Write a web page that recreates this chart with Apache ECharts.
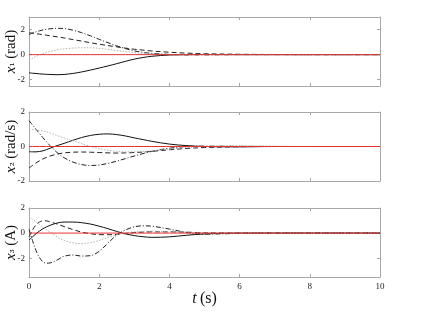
<!DOCTYPE html>
<html><head><meta charset="utf-8">
<script src="https://cdn.jsdelivr.net/npm/echarts@6/dist/echarts.min.js"></script>
<style>html,body{margin:0;padding:0;background:#fff}#c{width:424px;height:312px}</style>
</head><body><div id="c"></div>
<script>
// time samples (s)
const T = [0,0.1,0.2,0.3,0.4,0.5,0.6,0.8,1.0,1.25,1.5,1.75,2.0,2.25,2.5,2.75,3.0,3.25,3.5,4.0,4.5,5,6,7,8,10];

// x1 (rad)
const x1Solid   = [-1.45,-1.48,-1.5,-1.53,-1.55,-1.57,-1.58,-1.6,-1.58,-1.5,-1.38,-1.23,-1.07,-0.9,-0.72,-0.53,-0.36,-0.23,-0.13,-0.03,0,0.01,0,0,0,0];
const x1Dash    = [1.75,1.71,1.67,1.63,1.59,1.55,1.5,1.42,1.33,1.2,1.08,0.95,0.83,0.72,0.62,0.52,0.43,0.36,0.29,0.19,0.12,0.07,0.03,0.01,0,0];
const x1DashDot = [1.6,1.72,1.82,1.9,1.97,2.02,2.06,2.1,2.08,1.95,1.75,1.5,1.22,0.95,0.7,0.48,0.3,0.18,0.1,0.02,-0.02,-0.02,0,0,0,0];
const x1Dot     = [-0.45,-0.3,-0.15,-0.03,0.08,0.17,0.25,0.38,0.46,0.52,0.55,0.55,0.5,0.42,0.33,0.24,0.16,0.1,0.06,0.01,0,0,0,0,0,0];

// x2 (rad/s)
const x2Solid   = [-0.3,-0.31,-0.31,-0.29,-0.25,-0.18,-0.1,0.05,0.18,0.36,0.52,0.64,0.71,0.73,0.69,0.61,0.5,0.4,0.3,0.14,0.05,0,-0.02,0,0,0];
const x2Dash    = [-1.25,-1.1,-0.95,-0.83,-0.72,-0.63,-0.55,-0.44,-0.37,-0.33,-0.32,-0.33,-0.35,-0.37,-0.38,-0.37,-0.35,-0.32,-0.28,-0.19,-0.11,-0.06,-0.01,0,0,0];
const x2DashDot = [1.5,1.25,1.0,0.75,0.5,0.27,0.05,-0.35,-0.65,-0.9,-1.05,-1.1,-1.07,-0.98,-0.85,-0.7,-0.55,-0.41,-0.28,-0.1,0,0.02,0.01,0,0,0];
const x2Dot     = [1.0,0.99,0.97,0.94,0.9,0.85,0.78,0.64,0.5,0.33,0.16,0,-0.12,-0.22,-0.28,-0.31,-0.31,-0.29,-0.25,-0.15,-0.06,0,0.04,0.02,0,0];

// x3 (A)
const x3Solid   = [-0.55,-0.3,-0.05,0.17,0.35,0.5,0.62,0.8,0.88,0.88,0.83,0.72,0.55,0.35,0.13,-0.06,-0.2,-0.29,-0.34,-0.3,-0.17,-0.07,0,0,0,0];
const x3Dash    = [-0.3,0.25,0.65,0.88,0.98,0.97,0.9,0.72,0.52,0.28,0.08,-0.05,-0.12,-0.13,-0.1,-0.03,0.04,0.08,0.1,0.1,0.07,0.03,0,0,0,0];
const x3DashDot = [0.3,-0.6,-1.4,-1.95,-2.3,-2.4,-2.38,-2.15,-1.85,-1.75,-1.83,-1.8,-1.45,-0.8,-0.15,0.25,0.5,0.58,0.55,0.32,0.05,-0.08,-0.03,0,0,0];
const x3Dot     = [1.3,1.1,0.9,0.68,0.47,0.27,0.08,-0.3,-0.58,-0.78,-0.83,-0.76,-0.58,-0.35,-0.14,0.02,0.1,0.14,0.15,0.12,0.07,0.03,0,0,0,0];

const zeroRef = T.map(() => 0);

// axes
const xTicks = [0,2,4,6,8,10];
const yTicks = [-2,0,2];
const yRanges = [[-2.5,3],[-2,2],[-3.5,2]];
const yNames = [['1','(rad)'],['2','(rad/s)'],['3','(A)']];
const panels = [
  [x1Solid,x1Dash,x1DashDot,x1Dot],
  [x2Solid,x2Dash,x2DashDot,x2Dot],
  [x3Solid,x3Dash,x3DashDot,x3Dot]
];

const SERIF = 'Liberation Serif';
const AX = '#a8a8a8';
const gridTops = [17,112,208];

const chart = echarts.init(document.getElementById('c'), null, {renderer:'canvas'});
const grid = gridTops.map(t => ({left:29, right:44, top:t, height:69, containLabel:false, outerBoundsMode:'none'}));
const xAxis = [], yAxis = [], series = [];
const styles = [
  {color:'#111', type:'solid', width:1},
  {color:'#222', type:[5,3], width:1},
  {color:'#222', type:[5,2,1,2], width:1},
  {color:'#b4b4b4', type:[1.5,1.5], width:1}
];
const subs = {'1':'\u2081','2':'\u2082','3':'\u2083'};
for (let i = 0; i < 3; i++) {
  const last = i === 2;
  const common = {type:'value', gridIndex:i, min:0, max:10, interval:2,
    axisLine:{show:true, onZero:false, lineStyle:{color:AX, width:1}},
    axisTick:{show:true, inside:true, length:3, lineStyle:{color:AX}},
    splitLine:{show:false}};
  xAxis.push(Object.assign({}, common, {position:'bottom',
    axisLabel:{show:last, fontFamily:SERIF, fontSize:9, color:'#222', margin:5},
    name: last ? '{i|t} {n|(s)}' : '', nameLocation:'middle', nameGap:14, nameMoveOverlap:false,
    nameTextStyle:{rich:{i:{fontFamily:SERIF, fontStyle:'italic', fontSize:16, color:'#111'}, n:{fontFamily:SERIF, fontSize:16, color:'#111'}}}
  }));
  xAxis.push(Object.assign({}, common, {position:'top', axisLabel:{show:false}}));
  const [mn,mx] = yRanges[i];
  const yc = {type:'value', gridIndex:i, min:mn, max:mx,
    axisLine:{show:true, onZero:false, lineStyle:{color:AX, width:1}},
    axisTick:{show:true, inside:true, length:3, customValues:yTicks, lineStyle:{color:AX}},
    splitLine:{show:false}};
  yAxis.push(Object.assign({}, yc, {position:'left',
    axisLabel:{show:true, customValues:yTicks, fontFamily:SERIF, fontSize:9, color:'#222', margin:4},
    name:'{i|x}{s|' + subs[yNames[i][0]] + '} {n|' + yNames[i][1] + '}',
    nameLocation:'middle', nameRotate:90, nameGap:10, nameMoveOverlap:false,
    nameTextStyle:{rich:{
      i:{fontFamily:SERIF, fontStyle:'italic', fontSize:15, color:'#111'},
      s:{fontFamily:'DejaVu Serif', fontSize:11, color:'#111'},
      n:{fontFamily:SERIF, fontSize:15, color:'#111'}}}
  }));
  yAxis.push(Object.assign({}, yc, {position:'right', axisLabel:{show:false}}));
  panels[i].forEach((arr, k) => {
    series.push({type:'line', xAxisIndex:2*i, yAxisIndex:2*i, showSymbol:false, smooth:0.35,
      silent:true, animation:false, clip:true,
      lineStyle:styles[k], data:T.map((t,j) => [t, arr[j]])});
  });
  series.push({type:'line', xAxisIndex:2*i, yAxisIndex:2*i, showSymbol:false, silent:true,
    animation:false, z:5, lineStyle:{color:'#e8312f', width:1}, data:T.map((t,j) => [t, zeroRef[j]])});
}
chart.setOption({animation:false, backgroundColor:'#fff', grid, xAxis, yAxis, series});
</script></body></html>
